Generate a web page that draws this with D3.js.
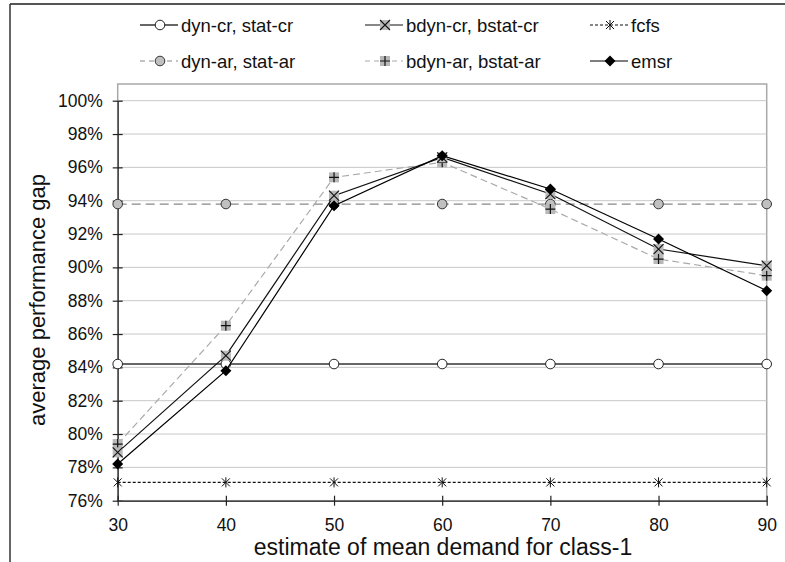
<!DOCTYPE html>
<html><head><meta charset="utf-8">
<script src="https://cdn.jsdelivr.net/npm/d3@7/dist/d3.min.js"></script>
<style>body{margin:0;background:#fff}svg{display:block}</style>
</head><body>
<svg id="c" width="785" height="562"></svg>
<script>
const categories = [30, 40, 50, 60, 70, 80, 90];
const dynCr  = [84.2, 84.2, 84.2, 84.2, 84.2, 84.2, 84.2];
const dynAr  = [93.8, 93.8, 93.8, 93.8, 93.8, 93.8, 93.8];
const bdynCr = [78.9, 84.7, 94.3, 96.6, 94.4, 91.1, 90.1];
const bdynAr = [79.4, 86.5, 95.4, 96.3, 93.5, 90.5, 89.5];
const fcfs   = [77.1, 77.1, 77.1, 77.1, 77.1, 77.1, 77.1];
const emsr   = [78.2, 83.8, 93.7, 96.7, 94.7, 91.7, 88.6];
const yTicks = [76, 78, 80, 82, 84, 86, 88, 90, 92, 94, 96, 98, 100];
const seriesNames = ["dyn-cr, stat-cr", "bdyn-cr, bstat-cr", "fcfs", "dyn-ar, stat-ar", "bdyn-ar, bstat-ar", "emsr"];
const xTitle = "estimate of mean demand for class-1";
const yTitle = "average performance gap";

const svg = d3.select("#c");
const FONT = "'Liberation Sans', Arial, sans-serif";
const L = 117.7, R = 766.7, T = 84, B = 500.7;
const x = d3.scaleLinear().domain([30, 90]).range([L, R]);
const y = d3.scaleLinear().domain([76, 100]).range([B, 100.7]);

// outer frame
svg.append("line").attr("x1", 10).attr("x2", 785).attr("y1", 4).attr("y2", 4).attr("stroke", "#555").attr("stroke-width", 2);
svg.append("line").attr("x1", 10).attr("x2", 10).attr("y1", 4).attr("y2", 562).attr("stroke", "#333").attr("stroke-width", 1.5);

// plot area box
svg.append("rect").attr("x", L).attr("y", T).attr("width", R - L).attr("height", B - T)
  .attr("fill", "none").attr("stroke", "#a8a8a8").attr("stroke-width", 1.5);

// gridlines
svg.append("g").selectAll("line").data(yTicks.filter(d => d > 76)).join("line")
  .attr("x1", L).attr("x2", R).attr("y1", d => y(d)).attr("y2", d => y(d))
  .attr("stroke", "#c8c8c8").attr("stroke-width", 1);

// axes
const yAxis = d3.axisLeft(y).tickValues(yTicks).tickFormat(d => d + "%").tickSizeInner(5).tickSizeOuter(0).tickPadding(10);
const gy = svg.append("g").attr("transform", `translate(${L},0)`).call(yAxis);
gy.select(".domain").attr("stroke", "#444").attr("stroke-width", 1.5);
gy.selectAll(".tick line").attr("stroke", "#222").attr("x2", -5).attr("x1", 5).attr("stroke-width", 1.2);
gy.selectAll(".tick text").attr("font-family", FONT).attr("font-size", 17.5).attr("fill", "#111").attr("x", -15);

const xAxis = d3.axisBottom(x).tickValues(categories).tickSizeInner(5).tickSizeOuter(0).tickPadding(14);
const gx = svg.append("g").attr("transform", `translate(0,${B})`).call(xAxis);
gx.select(".domain").attr("stroke", "#444").attr("stroke-width", 1.5);
gx.selectAll(".tick line").attr("stroke", "#222").attr("y1", -5).attr("y2", 5).attr("stroke-width", 1.2);
gx.selectAll(".tick text").attr("font-family", FONT).attr("font-size", 17.5).attr("fill", "#111").attr("y", 18);

// titles
svg.append("text").attr("x", 443).attr("y", 555).attr("text-anchor", "middle")
  .attr("font-family", FONT).attr("font-size", 23).attr("fill", "#111").text(xTitle);
svg.append("text").attr("transform", "translate(45,300) rotate(-90)").attr("text-anchor", "middle")
  .attr("font-family", FONT).attr("font-size", 22).attr("fill", "#111").text(yTitle);

// marker drawing
function marker(g, type, cx, cy) {
  if (type === "circleW") {
    g.append("circle").attr("cx", cx).attr("cy", cy).attr("r", 4.8).attr("fill", "#fff").attr("stroke", "#222").attr("stroke-width", 1);
  } else if (type === "circleG") {
    g.append("circle").attr("cx", cx).attr("cy", cy).attr("r", 4.8).attr("fill", "#c0c0c0").attr("stroke", "#333").attr("stroke-width", 1);
  } else if (type === "xsq") {
    g.append("rect").attr("x", cx - 5).attr("y", cy - 5).attr("width", 10).attr("height", 10).attr("fill", "#b8b8b8");
    g.append("path").attr("d", `M${cx-5},${cy-5}L${cx+5},${cy+5}M${cx-5},${cy+5}L${cx+5},${cy-5}`).attr("stroke", "#111").attr("stroke-width", 1.1);
  } else if (type === "plussq") {
    g.append("rect").attr("x", cx - 5).attr("y", cy - 5).attr("width", 10).attr("height", 10).attr("fill", "#b8b8b8");
    g.append("path").attr("d", `M${cx-5},${cy}L${cx+5},${cy}M${cx},${cy-5}L${cx},${cy+5}`).attr("stroke", "#111").attr("stroke-width", 1.2);
  } else if (type === "diamond") {
    g.append("path").attr("d", `M${cx},${cy-5.5}L${cx+5.5},${cy}L${cx},${cy+5.5}L${cx-5.5},${cy}Z`).attr("fill", "#000");
  } else if (type === "star") {
    g.append("path").attr("d", `M${cx-4},${cy-4}L${cx+4},${cy+4}M${cx-4},${cy+4}L${cx+4},${cy-4}M${cx},${cy-5}L${cx},${cy+5}`).attr("stroke", "#111").attr("stroke-width", 1);
  }
}

const series = [
  {name: seriesNames[3], values: dynAr,  stroke: "#888", width: 1.2, dash: "9,5", mk: "circleG"},
  {name: seriesNames[4], values: bdynAr, stroke: "#aaa", width: 1.2, dash: "7,4", mk: "plussq"},
  {name: seriesNames[0], values: dynCr,  stroke: "#333", width: 1.4, dash: null, mk: "circleW"},
  {name: seriesNames[1], values: bdynCr, stroke: "#111", width: 1.2, dash: null, mk: "xsq"},
  {name: seriesNames[2], values: fcfs,   stroke: "#111", width: 1.1, dash: "3,2", mk: "star"},
  {name: seriesNames[5], values: emsr,   stroke: "#000", width: 1.2, dash: null, mk: "diamond"}
];

const line = d3.line().x((d, i) => x(categories[i])).y(d => y(d));
series.forEach(s => {
  const g = svg.append("g");
  g.append("path").attr("d", line(s.values)).attr("fill", "none").attr("stroke", s.stroke)
    .attr("stroke-width", s.width).attr("stroke-dasharray", s.dash);
  s.values.forEach((v, i) => marker(g, s.mk, x(categories[i]), y(v)));
});

// legend
const legendPos = [[140, 25], [365, 25], [590, 25], [140, 61], [365, 61], [590, 61]];
seriesNames.forEach((n, i) => {
  const s = series.find(d => d.name === n);
  const [lx, ly] = legendPos[i];
  const g = svg.append("g");
  g.append("line").attr("x1", lx).attr("x2", lx + 38).attr("y1", ly).attr("y2", ly)
    .attr("stroke", s.stroke).attr("stroke-width", s.width).attr("stroke-dasharray", s.dash ? (s.dash === "3,2" ? "3,2" : "5,4") : null);
  marker(g, s.mk, lx + 20, ly);
  g.append("text").attr("x", lx + 41).attr("y", ly + 6.5).attr("font-family", FONT).attr("font-size", 18.5)
    .attr("fill", "#111").text(n);
});
</script>
</body></html>
